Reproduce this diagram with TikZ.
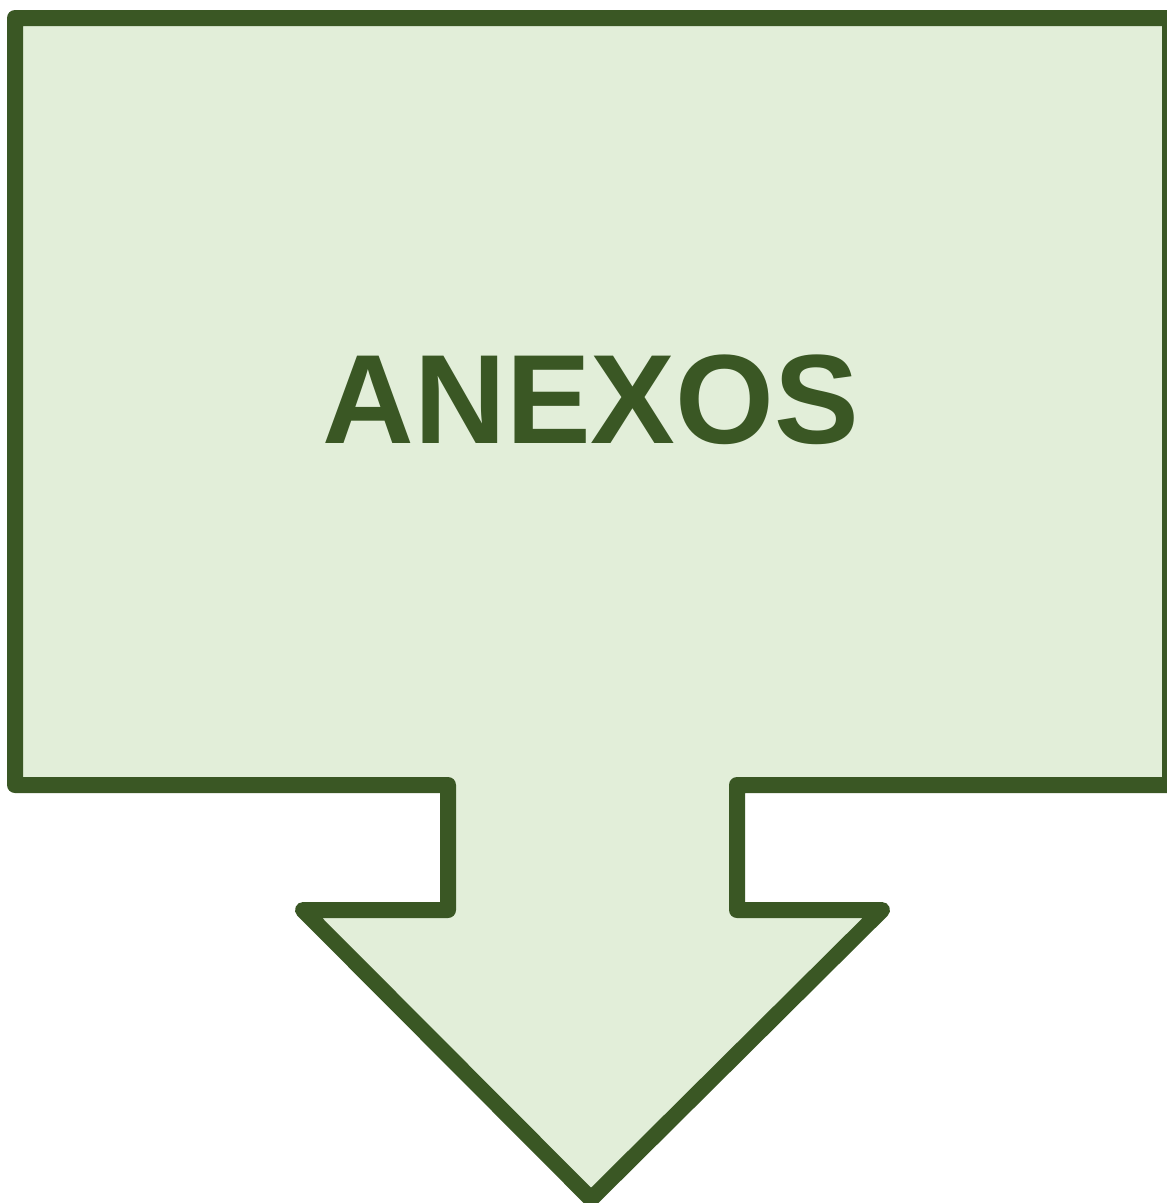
\documentclass[tikz,border=0pt]{standalone}
\usepackage{fontspec}
\setmainfont{Liberation Sans}
\definecolor{darkgreen}{HTML}{3A5724}
\definecolor{lightgreen}{HTML}{E2EED9}
\tikzset{
  callout/.style={draw=darkgreen, fill=lightgreen, line width=16pt, line join=round},
  label/.style={text=darkgreen, font=\fontsize{127}{127}\selectfont\bfseries, inner sep=0pt}
}
\begin{document}
\begin{tikzpicture}[x=1pt,y=-1pt]
\useasboundingbox (0,0) rectangle (1167,1203);
\clip (0,0) rectangle (1167,1203);
\fill[white] (0,0) rectangle (1167,1203);
\draw[callout] (15,18) -- (1170,18) -- (1170,785) -- (737,785) -- (737,910) -- (882,910)
  -- (591,1199) -- (303,910) -- (448,910) -- (448,785) -- (15,785) -- cycle;
\node[label] (title) at (591,400) {ANEXOS};
\end{tikzpicture}
\end{document}
